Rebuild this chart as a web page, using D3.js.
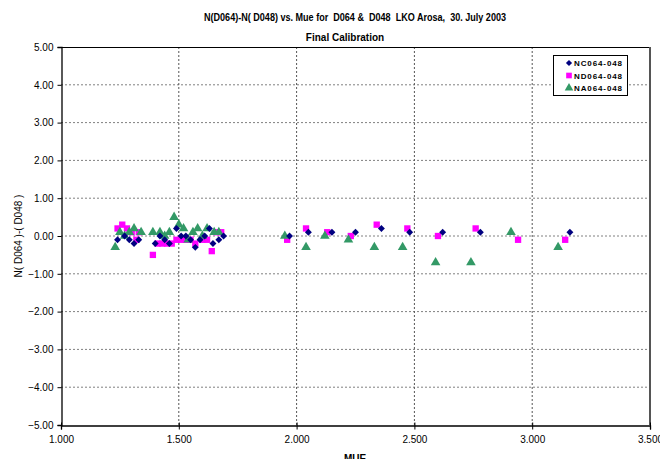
<!DOCTYPE html>
<html><head><meta charset="utf-8">
<script src="https://cdn.jsdelivr.net/npm/d3@7"></script>
<style>body{margin:0;background:#fff}svg{display:block}text{font-family:"Liberation Sans",Arial,sans-serif}</style>
</head><body>
<svg id="c" width="660" height="459"></svg>
<script>
const xTicks = [1.0, 1.5, 2.0, 2.5, 3.0, 3.5];
const yTicks = [-5, -4, -3, -2, -1, 0, 1, 2, 3, 4, 5];
const seriesNames = ["NC064-048", "ND064-048", "NA064-048"];
const ncMue = [1.24,1.27,1.29,1.31,1.33,1.40,1.42,1.44,1.46,1.49,1.51,1.53,1.55,1.57,1.59,1.61,1.63,1.645,1.67,1.69,1.97,2.05,2.15,2.25,2.36,2.48,2.62,2.78,3.16];
const ncVal = [-0.1,0.0,-0.1,-0.2,-0.1,-0.2,0.0,-0.1,-0.2,0.2,0.0,0.0,-0.1,-0.3,-0.1,0.0,0.2,-0.2,-0.1,0.0,0.0,0.1,0.1,0.1,0.2,0.1,0.1,0.1,0.1];
const ndMue = [1.24,1.26,1.28,1.30,1.32,1.33,1.39,1.41,1.43,1.45,1.47,1.49,1.51,1.53,1.55,1.57,1.60,1.62,1.64,1.66,1.68,1.96,2.04,2.13,2.23,2.34,2.47,2.60,2.76,2.94,3.14];
const ndVal = [0.2,0.3,0.2,0.1,-0.1,0.1,-0.5,-0.2,-0.2,-0.2,-0.2,-0.1,-0.1,-0.1,-0.1,-0.2,-0.1,-0.1,-0.4,0.1,0.1,-0.1,0.2,0.1,0.0,0.3,0.2,0.0,0.2,-0.1,-0.1];
const naMue = [1.23,1.25,1.27,1.29,1.31,1.34,1.39,1.42,1.44,1.46,1.48,1.50,1.52,1.54,1.56,1.58,1.60,1.62,1.65,1.67,1.95,2.04,2.12,2.22,2.33,2.45,2.59,2.74,2.91,3.11];
const naVal = [-0.3,0.1,0.0,0.1,0.2,0.1,0.1,0.1,0.0,0.1,0.5,0.3,0.2,-0.1,0.1,0.2,0.0,0.2,0.1,0.1,0.0,-0.3,0.0,-0.1,-0.3,-0.3,-0.7,-0.7,0.1,-0.3];

const svg = d3.select("#c");
const L = 61, R = 650, T = 47, B = 425;
const x = d3.scaleLinear().domain([1, 3.5]).range([L, R]);
const y = d3.scaleLinear().domain([-5, 5]).range([B, T]);

// title
svg.append("text").attr("x", 355).attr("y", 21).attr("text-anchor", "middle")
  .attr("font-size", 10).attr("font-weight", "bold").attr("textLength", 302).attr("lengthAdjust", "spacingAndGlyphs")
  .style("white-space","pre")
  .text("N(D064)-N( D048) vs. Mue for  D064 &  D048  LKO Arosa,  30. July 2003");
svg.append("text").attr("x", 345).attr("y", 41).attr("text-anchor", "middle")
  .attr("font-size", 10).attr("font-weight", "bold").text("Final Calibration");

// gridlines
const g = svg.append("g");
g.selectAll(".hg").data(yTicks.filter(d => d > -5 && d < 5)).join("line")
  .attr("x1", L).attr("x2", R).attr("y1", d => y(d)).attr("y2", d => y(d))
  .attr("stroke", "#808080").attr("stroke-dasharray", "2,2");
g.selectAll(".vg").data(xTicks.filter(d => d > 1 && d < 3.5)).join("line")
  .attr("y1", T).attr("y2", B).attr("x1", d => x(d)).attr("x2", d => x(d))
  .attr("stroke", "#555").attr("stroke-dasharray", "2,2");

// plot border
svg.append("line").attr("x1", L).attr("x2", R).attr("y1", T + 0.5).attr("y2", T + 0.5).attr("stroke", "#000");
svg.append("line").attr("x1", R).attr("x2", R).attr("y1", T).attr("y2", B).attr("stroke", "#555").attr("stroke-width", 2);

// axes
const yAxis = d3.axisLeft(y).tickValues(yTicks).tickFormat(d3.format(".2f")).tickSizeOuter(0).tickSize(4).tickPadding(4);
const ya = svg.append("g").attr("transform", `translate(${L + 0.5},0)`).call(yAxis);
const xAxis = d3.axisBottom(x).tickValues(xTicks).tickFormat(d3.format(".3f")).tickSizeOuter(0).tickSize(4).tickPadding(6);
const xa = svg.append("g").attr("transform", `translate(0,${B + 0.5})`).call(xAxis);
[ya, xa].forEach(a => {
  a.selectAll("text").attr("font-size", 10).attr("fill", "#000").style("font-family", '"Liberation Sans",Arial,sans-serif');
  a.select(".domain").attr("stroke", "#000").attr("stroke-width", 1.3);
  a.selectAll(".tick line").attr("stroke", "#000");
});
xa.selectAll(".tick line").attr("y1", -3);

svg.append("text").attr("transform", `translate(22,${(T + B) / 2}) rotate(-90)`).attr("text-anchor", "middle")
  .attr("font-size", 10).text("N( D064 )-( D048 )");
svg.append("text").attr("x", 355).attr("y", 462).attr("text-anchor", "middle").attr("font-size", 10).attr("font-weight","bold").text("MUE");

// markers
const colors = ["#000080", "#FF00FF", "#339966"];
const shapes = [d3.symbolSquare, d3.symbolSquare, d3.symbolTriangle];
const sizes = [24, 40, 40];
const rot = [45, 0, 0];
const sets = [[ncMue, ncVal], [ndMue, ndVal], [naMue, naVal]];
const plot = svg.append("g");
[1, 2, 0].forEach(i => {
  const data = sets[i][0].map((m, k) => [m, sets[i][1][k]]);
  plot.selectAll(".s" + i).data(data).join("path")
    .attr("transform", d => `translate(${x(d[0])},${y(d[1])}) rotate(${rot[i]})`)
    .attr("d", d3.symbol().type(shapes[i]).size(sizes[i]))
    .attr("fill", colors[i]);
});

// legend
const lg = svg.append("g").attr("transform", "translate(553,55)");
lg.append("rect").attr("x", 0.5).attr("y", 0.5).attr("width", 74).attr("height", 40).attr("fill", "#fff").attr("stroke", "#000");
seriesNames.forEach((n, i) => {
  const yy = 8 + i * 12.5;
  lg.append("path").attr("transform", `translate(16,${yy}) rotate(${rot[i]})`).attr("d", d3.symbol().type(shapes[i]).size(sizes[i] * 0.8)).attr("fill", colors[i]);
  lg.append("text").attr("x", 21).attr("y", yy + 3).attr("font-size", 8).attr("font-weight","bold").attr("textLength", 48).text(n);
});
</script>
</body></html>
